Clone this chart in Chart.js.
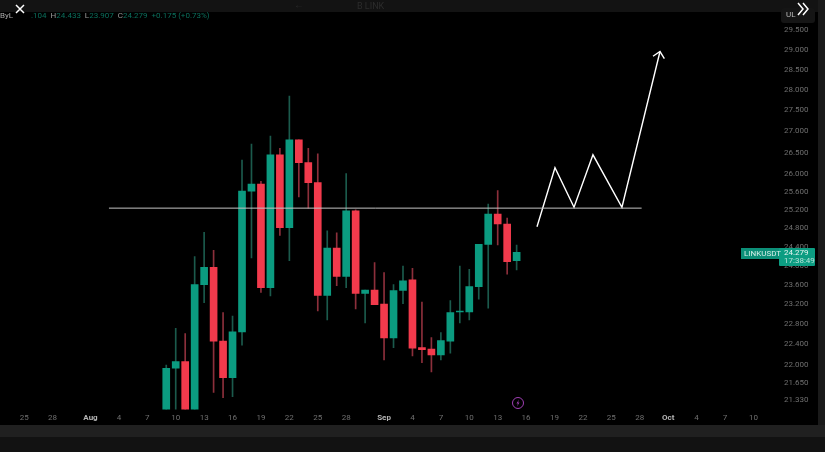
<!DOCTYPE html>
<html>
<head>
<meta charset="utf-8">
<script src="https://cdn.jsdelivr.net/npm/chart.js@4"></script>
<style>
html, body { margin: 0; padding: 0; background: #000; overflow: hidden; }
#wrap { position: relative; width: 825px; height: 452px; font-family: Roboto, sans-serif; }
#wrap div, #wrap svg { position: absolute; }
canvas { position: absolute; left: 0; top: 0; }
.band { background: #131313; }
.txt { white-space: nowrap; font-size: 8px; line-height: 10px; }
</style>
</head>
<body>
<div id="wrap">
  <canvas id="chart" width="825" height="452"></canvas>

  <!-- window chrome around the chart -->
  <div class="band" style="left:0;top:0;width:825px;height:12px"></div>
  <div class="band" style="left:818px;top:0;width:7px;height:452px;background:#1a1a1a"></div>
  <div class="band" style="left:0;top:425px;width:825px;height:12px;background:#202020"></div>
  <div class="band" style="left:0;top:437px;width:825px;height:15px;background:#121212"></div>
  <div class="band" style="left:781px;top:8px;width:34px;height:15px;background:#151515;border-radius:3px"></div>
  <div class="txt" style="left:786px;top:10px;color:#bbb">UL</div>
  <div class="txt" style="left:294px;top:0;color:#2c2c2c;font-size:10px">←</div>
  <div class="txt" style="left:357px;top:1px;color:#2c2c2c;font-size:9px">B LINK</div>

  <svg style="left:13px;top:2px" width="14" height="14" viewBox="0 0 14 14"><path d="M3 3 L11 11 M11 3 L3 11" stroke="#fff" stroke-width="1.5" fill="none"/></svg>
  <svg style="left:796px;top:2px" width="14" height="14" viewBox="0 0 14 14"><path d="M2 1 L7 7 L2 13 M7 1 L12 7 L7 13" stroke="#fff" stroke-width="1.5" fill="none"/></svg>

  <div class="txt" style="left:0;top:11px;color:#aaa">ByL</div>
  <div class="txt" style="left:31px;top:11px;color:#0b6f5c">.104 &nbsp;<span style="color:#999">H</span>24.433 &nbsp;<span style="color:#999">L</span>23.907 &nbsp;<span style="color:#999">C</span>24.279 &nbsp;+0.175 (+0.73%)</div>

  <div style="left:741px;top:248px;width:39px;height:11px;background:#0c8f78"></div>
  <div style="left:779px;top:248px;width:36px;height:18px;background:#0c9d82;border-radius:1px"></div>
  <div class="txt" style="left:744px;top:249px;color:#d5efe9">LINKUSDT</div>
  <div class="txt" style="left:784px;top:248px;color:#e6f5f1">24.279</div>
  <div class="txt" style="left:784px;top:256px;color:#b5e2d8">17:38:49</div>

  <svg style="left:511px;top:396px" width="14" height="14" viewBox="0 0 14 14"><circle cx="7" cy="7" r="5.5" stroke="#a13fb5" stroke-width="1" fill="#000"/><path d="M8 3.5 L5.5 7.5 L7 7.5 L6 10.5 L8.5 6.5 L7 6.5 Z" fill="#a13fb5"/></svg>
</div>

<script>
// Days are counted from Aug 1 = 0
const candleDays = [8,9,10,11,12,13,14,15,16,17,18,19,20,21,22,23,24,25,26,27,28,29,30,31,32,33,34,35,36,37,38,39,40,41,42,43,44,45];
const opens  = [21.05,21.93,22.06,21.05,23.60,23.96,22.46,21.75,22.64,25.62,25.78,23.54,26.45,24.81,26.80,26.27,25.81,23.38,24.37,23.77,25.18,23.42,23.49,23.20,22.52,23.48,23.70,22.33,22.30,22.19,22.46,23.04,23.04,23.56,24.45,25.11,24.89,24.104];
const highs  = [21.99,22.71,22.61,24.19,24.71,24.32,23.03,22.96,26.33,26.70,25.84,26.89,26.60,27.85,26.80,26.60,26.47,24.74,24.70,26.02,25.20,23.49,24.06,23.85,23.60,23.99,23.94,23.24,22.53,22.63,23.27,23.99,23.92,24.45,25.33,25.63,25.02,24.433];
const lows   = [21.05,21.05,21.05,21.05,23.23,21.47,21.37,21.39,22.38,24.16,23.44,23.37,24.64,24.10,25.49,25.24,23.06,22.88,23.58,23.54,23.10,22.82,23.19,22.09,22.33,23.21,22.17,22.04,21.86,22.09,22.22,22.82,22.88,23.30,23.12,24.44,23.82,23.907];
const closes = [21.93,22.06,21.05,23.60,23.96,22.46,21.75,22.64,25.62,25.78,23.54,26.45,24.81,26.80,26.27,25.81,23.38,24.37,23.77,25.18,23.42,23.49,23.19,22.52,23.48,23.68,22.32,22.29,22.19,22.47,23.03,23.06,23.56,24.45,25.11,24.89,24.08,24.279];

const levelDays = [1.95, 58.2];
const levelPrices = [25.24, 25.24];

const pathDays = [47.15, 49.05, 51.06, 53.06, 56.12, 60.14];
const pathPrices = [24.83, 26.15, 25.26, 26.45, 25.26, 28.96];
const arrowDays = [59.4, 60.14, 60.6];
const arrowPrices = [28.84, 28.96, 28.78];

const priceTicks = [21.33,21.65,22,22.4,22.8,23.2,23.6,24,24.4,24.8,25.2,25.6,26,26.5,27,27.5,28,28.5,29,29.5];
const dayTicks = [-7,-4,0,3,6,9,12,15,18,21,24,27,31,34,37,40,43,46,49,52,55,58,61,64,67,70];
const dayTickLabels = ['25','28','Aug','4','7','10','13','16','19','22','25','28','Sep','4','7','10','13','16','19','22','25','28','Oct','4','7','10'];
const monthLabels = ['Aug','Sep','Oct'];

const UP = '#0b9b80';
const DOWN = '#f23a4c';
const UP_WICK = '#1b5a4c';
const DOWN_WICK = '#8c2f3b';

const isUp = candleDays.map((d, i) => closes[i] >= opens[i]);

function xy(days, prices) {
    return days.map((d, i) => ({ x: d, y: prices[i] }));
}

const lineBase = { type: 'line', pointRadius: 0, tension: 0, order: 0 };

new Chart(document.getElementById('chart'), {
    data: {
        datasets: [
            {
                type: 'bar',
                grouped: false,
                order: 3,
                barThickness: 1,
                data: candleDays.map((d, i) => ({ x: d, y: [lows[i], highs[i]] })),
                backgroundColor: isUp.map(u => u ? UP_WICK : DOWN_WICK)
            },
            {
                type: 'bar',
                grouped: false,
                order: 2,
                barThickness: 7,
                minBarLength: 1,
                data: candleDays.map((d, i) => ({ x: d, y: [opens[i], closes[i]] })),
                backgroundColor: isUp.map(u => u ? UP : DOWN)
            },
            { ...lineBase, data: xy(levelDays, levelPrices), borderColor: '#c4c4c4', borderWidth: 1 },
            { ...lineBase, data: xy(pathDays, pathPrices), borderColor: '#ffffff', borderWidth: 1.4 },
            { ...lineBase, data: xy(arrowDays, arrowPrices), borderColor: '#ffffff', borderWidth: 1.4 }
        ]
    },
    options: {
        responsive: false,
        animation: false,
        layout: { padding: 0 },
        plugins: { legend: { display: false }, tooltip: { enabled: false } },
        scales: {
            x: {
                type: 'linear',
                offset: false,
                min: -9.556,
                max: 72.6,
                grid: { display: false, drawTicks: false },
                border: { display: false },
                afterBuildTicks: s => { s.ticks = dayTicks.map(v => ({ value: v })); },
                afterFit: s => { s.height = 42.5; s.paddingLeft = 0; s.paddingRight = 0; },
                ticks: {
                    autoSkip: false,
                    maxRotation: 0,
                    padding: 4,
                    callback: v => dayTickLabels[dayTicks.indexOf(v)],
                    color: ctx => monthLabels.includes(dayTickLabels[ctx.index]) ? '#b5b5b5' : '#6f6f6f',
                    font: ctx => ({ family: 'Roboto', size: 8, weight: monthLabels.includes(dayTickLabels[ctx.index]) ? 'bold' : 'normal' })
                }
            },
            y: {
                type: 'logarithmic',
                position: 'right',
                min: 21.15,
                max: 30.3,
                grid: { display: false, drawTicks: false },
                border: { display: false },
                afterBuildTicks: s => { s.ticks = priceTicks.map(v => ({ value: v })); },
                afterFit: s => { s.width = 47; s.paddingTop = 0; s.paddingBottom = 0; },
                ticks: {
                    autoSkip: false,
                    padding: 6,
                    callback: v => Number(v).toFixed(3),
                    color: '#6f6f6f',
                    font: { family: 'Roboto', size: 8 }
                }
            }
        }
    }
});
</script>
</body>
</html>
